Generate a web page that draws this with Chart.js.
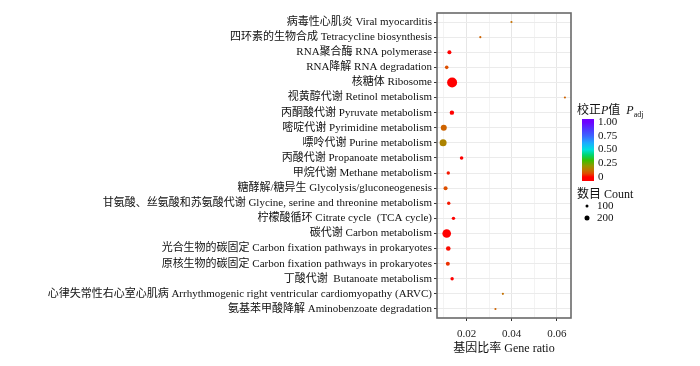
<!DOCTYPE html>
<html>
<head>
<meta charset="utf-8">
<script src="https://cdn.jsdelivr.net/npm/chart.js@4.4.1/dist/chart.umd.min.js"></script>
<style>
    html, body { margin: 0; padding: 0; background: #fff; }
    #wrap { width: 700px; height: 366px; }
</style>
</head>
<body>
<div id="wrap"><canvas id="bubbleChart" width="700" height="366"></canvas></div>
<script>
// Data
const pathways = [
    '病毒性心肌炎 Viral myocarditis',
    '四环素的生物合成 Tetracycline biosynthesis',
    'RNA聚合酶 RNA polymerase',
    'RNA降解 RNA degradation',
    '核糖体 Ribosome',
    '视黄醇代谢 Retinol metabolism',
    '丙酮酸代谢 Pyruvate metabolism',
    '嘧啶代谢 Pyrimidine metabolism',
    '嘌呤代谢 Purine metabolism',
    '丙酸代谢 Propanoate metabolism',
    '甲烷代谢 Methane metabolism',
    '糖酵解/糖异生 Glycolysis/gluconeogenesis',
    '甘氨酸、丝氨酸和苏氨酸代谢 Glycine, serine and threonine metabolism',
    '柠檬酸循环 Citrate cycle  (TCA cycle)',
    '碳代谢 Carbon metabolism',
    '光合生物的碳固定 Carbon fixation pathways in prokaryotes',
    '原核生物的碳固定 Carbon fixation pathways in prokaryotes',
    '丁酸代谢  Butanoate metabolism',
    '心律失常性右心室心肌病 Arrhythmogenic right ventricular cardiomyopathy (ARVC)',
    '氨基苯甲酸降解 Aminobenzoate degradation'
];
const geneRatio = [0.0399, 0.0261, 0.0124, 0.0112, 0.0136, 0.0636, 0.0135, 0.0099, 0.0096, 0.0178,
                   0.0119, 0.0107, 0.0121, 0.0142, 0.0112, 0.0119, 0.0117, 0.0136, 0.0361, 0.0328];
const geneCount = [72, 72, 144, 125, 670, 72, 165, 270, 350, 125,
                   116, 144, 116, 116, 510, 176, 144, 116, 72, 72];
const padjValues = [0.12, 0.10, 0.0, 0.07, 0.0, 0.10, 0.0, 0.10, 0.16, 0.0,
                    0.02, 0.07, 0.02, 0.0, 0.0, 0.01, 0.04, 0.0, 0.12, 0.10];

const xTickValues = [0.02, 0.04, 0.06];
const xMinorValues = [0.01, 0.03, 0.05];
const padjBreaks = [0, 0.25, 0.5, 0.75, 1];
const padjLabels = ['0', '0.25', '0.50', '0.75', '1.00'];
const countBreaks = [100, 200];

const FONT = "'Liberation Serif', 'Times New Roman', 'Noto Sans CJK SC', serif";

// colour scale of P adj (red -> brown -> green -> cyan -> blue -> violet)
const colorStops = [
    [0, [255, 0, 0]], [0.06, [226, 72, 0]], [0.12, [196, 112, 0]], [0.2, [150, 150, 0]],
    [0.3, [60, 190, 0]], [0.4, [0, 214, 110]], [0.5, [0, 224, 224]], [0.62, [30, 170, 255]],
    [0.75, [60, 100, 255]], [0.88, [80, 50, 255]], [1, [110, 0, 255]]
];

function padjColor(v) {
    for (let i = 1; i < colorStops.length; i++) {
        const [v1, c1] = colorStops[i];
        const [v0, c0] = colorStops[i - 1];
        if (v <= v1) {
            const t = (v - v0) / (v1 - v0);
            const c = c0.map((a, k) => Math.round(a + (c1[k] - a) * t));
            return `rgb(${c[0]},${c[1]},${c[2]})`;
        }
    }
    const c = colorStops[colorStops.length - 1][1];
    return `rgb(${c[0]},${c[1]},${c[2]})`;
}

function sizeFor(count) {
    return Math.sqrt(Math.max(0.8, 0.04 * count - 1.75));
}

const xMin = Math.min(...geneRatio);
const xMax = Math.max(...geneRatio);
const xPad = (xMax - xMin) * 0.05;

const panelBorder = {
    id: 'panelBorder',
    afterDraw(chart) {
        const { ctx, chartArea: a } = chart;
        ctx.save();
        ctx.strokeStyle = '#6a6a6a';
        ctx.lineWidth = 1.6;
        ctx.strokeRect(a.left, a.top, a.right - a.left, a.bottom - a.top);
        ctx.restore();
    }
};

const sideLegend = {
    id: 'sideLegend',
    afterDraw(chart) {
        const ctx = chart.ctx;
        ctx.save();
        ctx.fillStyle = '#111';
        ctx.textAlign = 'left';
        ctx.textBaseline = 'alphabetic';

        // title: 校正P值 P_adj
        let x = 577;
        const ty = 114;
        const parts = [
            ['校正', 'normal', 12, 0], ['P', 'italic', 12, 0], ['值', 'normal', 12, 0],
            ['  ', 'normal', 12, 0], ['P', 'italic', 12, 0], ['adj', 'normal', 8, 3]
        ];
        parts.forEach(([txt, style, size, dy]) => {
            ctx.font = `${style} ${size}px ${FONT}`;
            ctx.fillText(txt, x, ty + dy);
            x += ctx.measureText(txt).width;
        });

        // colour bar
        const barX = 582, barW = 12, barTop = 119, barBottom = 181;
        const y0 = 177, y1 = 122;
        const grad = ctx.createLinearGradient(0, y0, 0, y1);
        colorStops.forEach(([v]) => grad.addColorStop(v, padjColor(v)));
        ctx.fillStyle = grad;
        ctx.fillRect(barX, barTop, barW, barBottom - barTop);

        ctx.fillStyle = '#111';
        ctx.font = `11px ${FONT}`;
        ctx.textBaseline = 'middle';
        padjBreaks.forEach((v, i) => {
            ctx.fillText(padjLabels[i], 598, y0 + (y1 - y0) * v);
        });

        // size legend
        ctx.font = `12px ${FONT}`;
        ctx.textBaseline = 'alphabetic';
        ctx.fillText('数目 Count', 577, 198);
        ctx.font = `11px ${FONT}`;
        ctx.textBaseline = 'middle';
        countBreaks.forEach((c, i) => {
            const cy = 206 + i * 12;
            ctx.beginPath();
            ctx.arc(587, cy, sizeFor(c), 0, Math.PI * 2);
            ctx.fillStyle = '#000';
            ctx.fill();
            ctx.fillStyle = '#111';
            ctx.fillText(String(c), 597, cy);
        });
        ctx.restore();
    }
};

new Chart(document.getElementById('bubbleChart'), {
    type: 'scatter',
    data: {
        datasets: [{
            data: geneRatio.map((g, i) => ({ x: g, y: i })),
            pointRadius: geneCount.map(sizeFor),
            pointHoverRadius: geneCount.map(sizeFor),
            backgroundColor: padjValues.map(padjColor),
            borderWidth: 0
        }]
    },
    options: {
        responsive: false,
        animation: false,
        layout: { padding: { top: 13, right: 129, bottom: 0, left: 0 } },
        plugins: {
            legend: { display: false },
            tooltip: { enabled: false }
        },
        scales: {
            x: {
                type: 'linear',
                min: xMin - xPad,
                max: xMax + xPad,
                afterBuildTicks: scale => {
                    scale.ticks = [...xMinorValues, ...xTickValues].sort((a, b) => a - b).map(v => ({ value: v }));
                },
                afterFit: scale => { scale.height = 48; },
                ticks: {
                    autoSkip: false,
                    maxRotation: 0,
                    padding: 7,
                    color: '#222',
                    font: { family: FONT, size: 11 },
                    callback: v => xTickValues.includes(v) ? v.toFixed(2) : ''
                },
                grid: {
                    color: c => xTickValues.includes(c.tick.value) ? '#e6e6e6' : '#f3f3f3',
                    tickColor: c => xTickValues.includes(c.tick.value) ? '#333' : 'rgba(0,0,0,0)',
                    tickLength: 3
                },
                border: { display: false },
                title: {
                    display: true,
                    text: '基因比率 Gene ratio',
                    color: '#111',
                    font: { family: FONT, size: 12 },
                    padding: { top: 2, bottom: 10 }
                }
            },
            y: {
                type: 'linear',
                reverse: true,
                min: -0.6,
                max: pathways.length - 1 + 0.6,
                afterBuildTicks: scale => {
                    scale.ticks = pathways.map((_, i) => ({ value: i }));
                },
                afterFit: scale => { scale.width = 437; },
                ticks: {
                    autoSkip: false,
                    padding: 2,
                    color: '#111',
                    font: { family: FONT, size: 11 },
                    callback: v => pathways[v]
                },
                grid: { color: '#ebebeb', tickColor: '#333', tickLength: 3 },
                border: { display: false }
            }
        }
    },
    plugins: [panelBorder, sideLegend]
});
</script>
</body>
</html>
